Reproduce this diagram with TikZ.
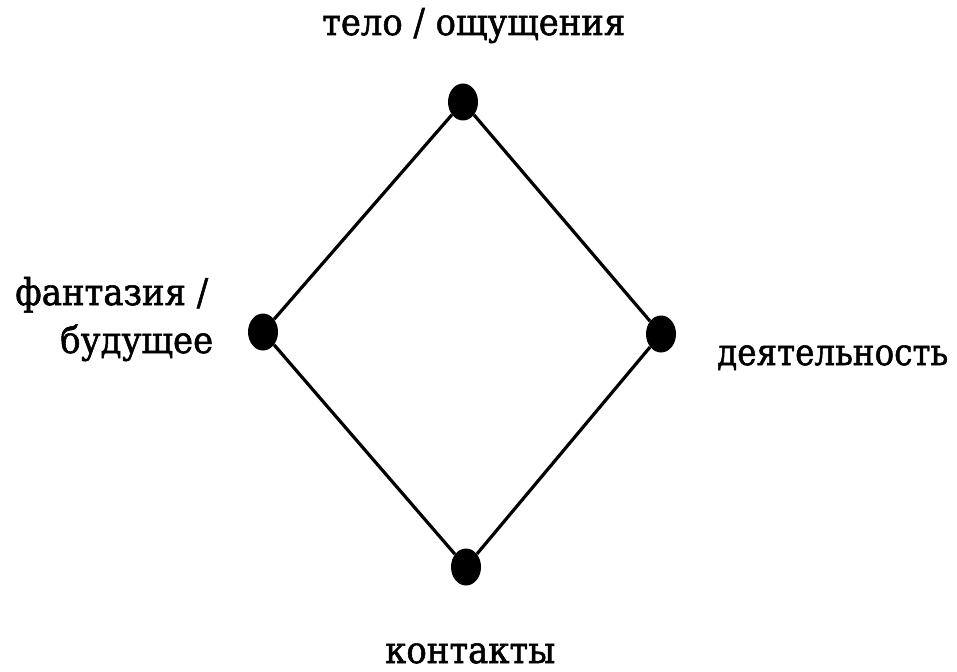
\documentclass[tikz,border=0pt]{standalone}
\usepackage{fontspec}
\usepackage{graphicx}
\setmainfont{DejaVu Serif}
\newfontfamily\lblfont[FakeBold=1.5]{DejaVu Serif}
\usetikzlibrary{shapes.geometric}
\tikzset{
  dot/.style={ellipse, fill=black, draw=none, inner sep=0pt, minimum width=30pt, minimum height=37pt},
  edge/.style={line width=3.2pt, draw=black},
  lbl/.style={anchor=base west, inner sep=0pt, font=\lblfont\fontsize{37pt}{40pt}\selectfont}
}
\newcommand{\fitw}[2]{\resizebox{#1pt}{\height}{#2}}
\begin{document}
\begin{tikzpicture}[x=1pt,y=-1pt]
\useasboundingbox (0,0) rectangle (957,671);
\node[dot] (t) at (463,102) {};
\node[dot] (l) at (263,332) {};
\node[dot] (r) at (661,334) {};
\node[dot] (b) at (466,567) {};
\draw[edge] (t) -- (l);
\draw[edge] (t) -- (r);
\draw[edge] (l) -- (b);
\draw[edge] (r) -- (b);
\node[lbl] (lt) at (322,35) {\fitw{303}{тело / ощущения}};
\node[lbl] (ll1) at (15,305) {\fitw{193}{фантазия /}};
\node[lbl] (ll2) at (60,353) {\fitw{153}{будущее}};
\node[lbl] (lr) at (717,365) {\fitw{231}{деятельность}};
\node[lbl] (lb) at (385,663) {\fitw{170}{контакты}};
\end{tikzpicture}
\end{document}
